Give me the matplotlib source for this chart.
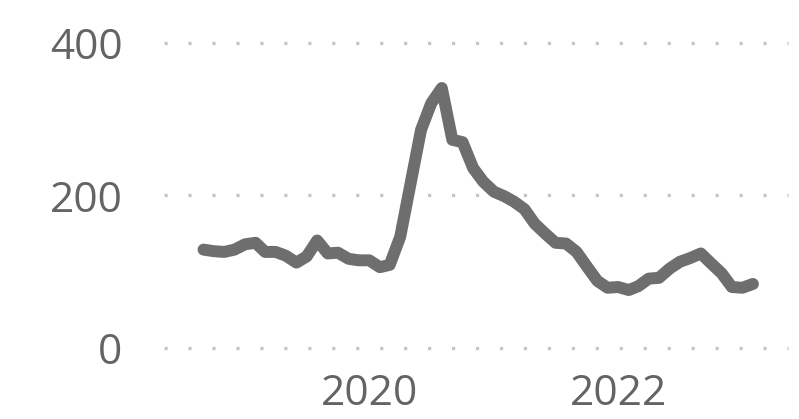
import pandas as pd
import matplotlib.pyplot as plt

# monthly series, Sep 2018 - Feb 2023
months = pd.date_range("2018-09-01", "2023-02-01", freq="MS")
values = [
    129, 127, 126, 129, 136, 138, 126, 126, 121, 112,
    120, 141, 124, 125, 117, 115, 115, 106, 109, 146,
    215, 286, 321, 341, 273, 270, 236, 218, 205, 199,
    192, 182, 163, 150, 138, 137, 126, 107, 88, 79,
    80, 76, 81, 91, 92, 104, 113, 118, 124, 111,
    98, 80, 79, 84,
]
y_ticks = [0, 200, 400]
x_ticks = ["2020-01-01", "2022-01-01"]
x_tick_labels = ["2020", "2022"]

line_color = "#6e6e6e"
text_color = "#646464"
grid_color = "#c4c4c4"

plt.rcParams["font.family"] = ["Open Sans", "DejaVu Sans"]

fig = plt.figure(figsize=(7.99, 4.19), dpi=100)
ax = fig.add_axes([164 / 799, 71 / 419, 624 / 799, 305 / 419])

ax.plot(months, values, color=line_color, linewidth=8.6,
        solid_capstyle="round", solid_joinstyle="round", zorder=3)

ax.set_ylim(0, 400)
ax.set_xlim(pd.Timestamp("2018-05-08"), pd.Timestamp("2023-05-15"))

ax.set_yticks(y_ticks)
ax.set_xticks([pd.Timestamp(d) for d in x_ticks])
ax.set_xticklabels(x_tick_labels)

# dotted guide lines
for y in y_ticks:
    ax.axhline(y, color=grid_color, linewidth=2.3, linestyle=(0, (1, 6.5)),
               dash_capstyle="butt", clip_on=False, zorder=1)

for s in ax.spines.values():
    s.set_visible(False)

ax.tick_params(axis="both", length=0, labelsize=30.5, colors=text_color)
ax.tick_params(axis="y", pad=30)
ax.tick_params(axis="x", pad=18)

fig.savefig("out.png", dpi=100)
